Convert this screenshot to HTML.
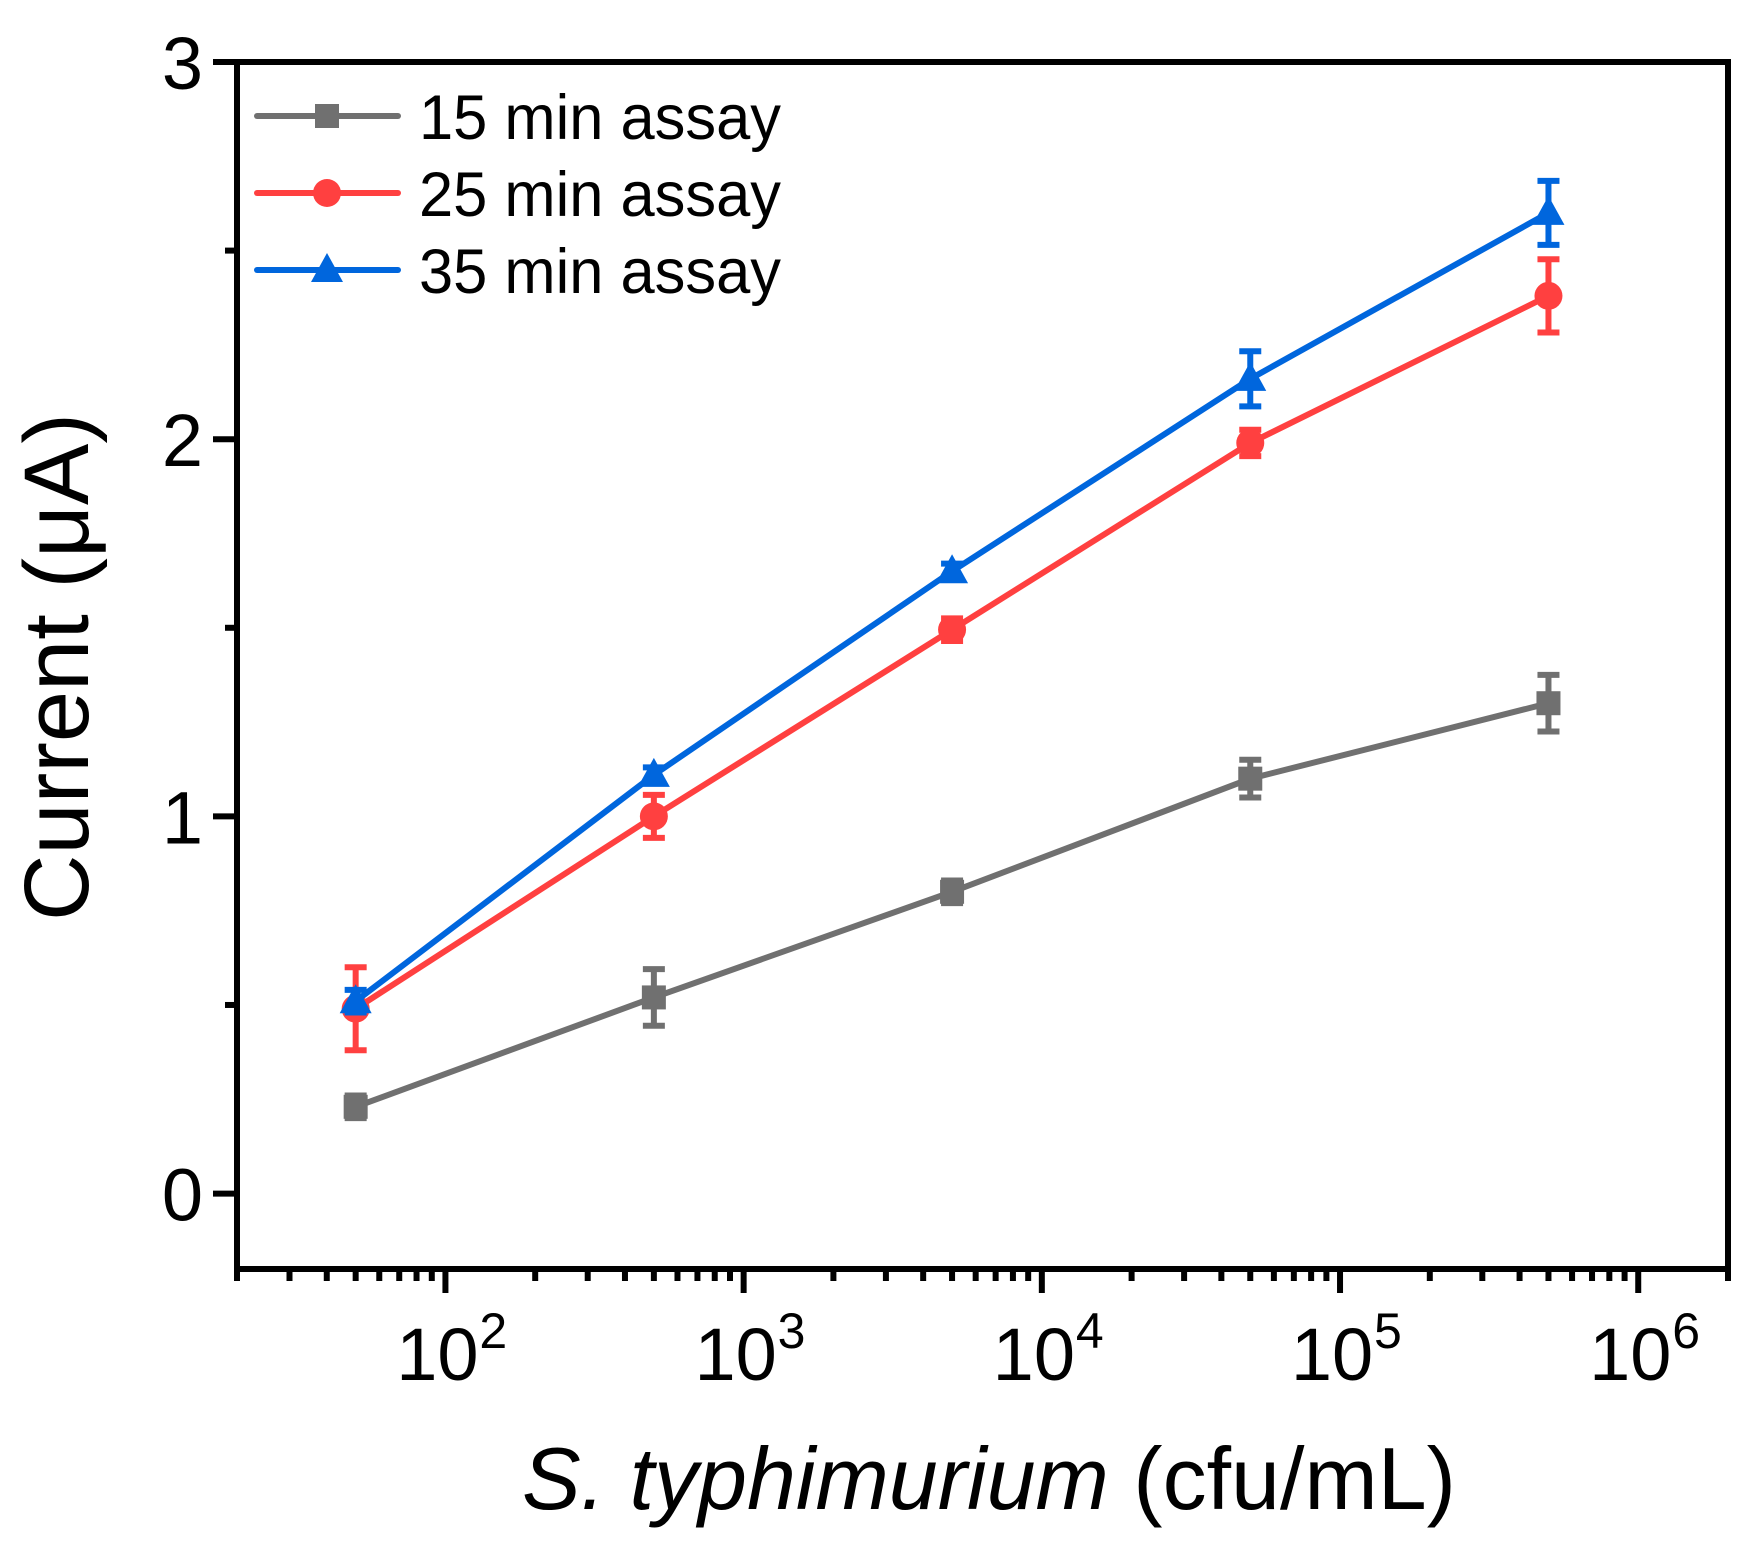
<!DOCTYPE html>
<html><head><meta charset="utf-8"><style>
html,body{margin:0;padding:0;background:#fff;}
svg{display:block;font-family:"Liberation Sans",Arial,sans-serif;}
</style></head><body>
<svg id="chart" width="1763" height="1541" viewBox="0 0 1763 1541" xmlns="http://www.w3.org/2000/svg">
<g id="plot"></g>
<text transform="translate(88,667) rotate(-90)" text-anchor="middle" font-size="92">Current (μA)</text>
<text x="989" y="1509" text-anchor="middle" font-size="88"><tspan font-style="italic">S. typhimurium</tspan> (cfu/mL)</text>
</svg>
<script>
const xValues = [50, 500, 5000, 50000, 500000];
const series15 = [0.23, 0.52, 0.80, 1.10, 1.30];
const err15 = [0.03, 0.075, 0.03, 0.05, 0.075];
const series25 = [0.49, 1.00, 1.495, 1.99, 2.38];
const err25 = [0.11, 0.057, 0.03, 0.035, 0.097];
const series35 = [0.51, 1.11, 1.65, 2.16, 2.60];
const err35 = [0.03, 0.02, 0.02, 0.073, 0.085];
const yTicks = [0, 1, 2, 3];
const xTickExps = [2, 3, 4, 5, 6];
const seriesNames = ["15 min assay", "25 min assay", "35 min assay"];

const NS = "http://www.w3.org/2000/svg";
const L = 237, R = 1728, T = 62, B = 1269;
const xMin = Math.log10(20), xMax = Math.log10(2e6);
const yMin = -0.2, yMax = 3;
const X = v => L + (Math.log10(v) - xMin) / (xMax - xMin) * (R - L);
const Y = v => B - (v - yMin) / (yMax - yMin) * (B - T);
const plot = document.getElementById('plot');
function el(tag, attrs, parent) {
  const e = document.createElementNS(NS, tag);
  for (const k in attrs) e.setAttribute(k, attrs[k]);
  (parent || plot).appendChild(e);
  return e;
}
const frame = el('rect', {x: L, y: T, width: R - L, height: B - T, fill: 'none', stroke: '#000', 'stroke-width': 6});


for (let v = 0; v <= 3; v += 0.5) {
  const major = Number.isInteger(v);
  const t = el('line', {x1: L - (major ? 24 : 12), x2: L, y1: Y(v), y2: Y(v), stroke: '#000', 'stroke-width': 6});
  
  
}
yTicks.forEach(v => {
  const t = el('text', {x: 203, y: Y(v) + 27, 'text-anchor': 'end', 'font-size': 74});
  t.textContent = v;
  
  
});
for (let e = 1; e <= 6; e++) {
  for (let m = 1; m <= 9; m++) {
    const v = m * Math.pow(10, e);
    if (v < 20 || v > 2e6) continue;
    const major = m === 1;
    const t = el('line', {x1: X(v), x2: X(v), y1: B, y2: B + (major ? 24 : 12), stroke: '#000', 'stroke-width': 6});
    
    
  }
}
xTickExps.forEach(e => {
  const t = el('text', {x: X(Math.pow(10, e)) - 8, y: 1380, 'text-anchor': 'middle', 'font-size': 74});
  t.textContent = '10';
  
  
  const s = el('text', {x: X(Math.pow(10, e)) + 34, y: 1348, 'text-anchor': 'start', 'font-size': 50});
  s.textContent = e;
  
  
});
function marker(kind, cx, cy, color, parent) {
  let m;
  if (kind === 0) m = el('rect', {x: cx - 12, y: cy - 12, width: 24, height: 24, fill: color}, parent);
  else if (kind === 1) m = el('circle', {cx: cx, cy: cy, r: 14, fill: color}, parent);
  else m = el('polygon', {points: `${cx},${cy - 17} ${cx + 16},${cy + 12} ${cx - 16},${cy + 12}`, fill: color}, parent);
  return m;
}
const colors = ['#707070', '#ff4040', '#0066dd'];
const allSeries = [series15, series25, series35];
const allErr = [err15, err25, err35];
allSeries.forEach((ys, si) => {
  const g = el('g', {});
  
  
  const pts = ys.map((y, i) => X(xValues[i]) + ',' + Y(y)).join(' ');
  const line = el('polyline', {points: pts, fill: 'none', stroke: colors[si], 'stroke-width': 6}, g);
  
  
  ys.forEach((y, i) => {
    const cx = X(xValues[i]), e = allErr[si][i];
    const eb = el('path', {d: `M${cx},${Y(y + e)}V${Y(y - e)}M${cx - 11},${Y(y + e)}H${cx + 11}M${cx - 11},${Y(y - e)}H${cx + 11}`, stroke: colors[si], 'stroke-width': 6, fill: 'none'}, g);
    
    
    const m = marker(si, cx, Y(y), colors[si], g);
    
    
  });
});
const legend = el('g', {});


const rowsY = [116, 193, 270];
seriesNames.forEach((n, i) => {
  const g = el('g', {}, legend);
  
  
  el('line', {x1: 257, x2: 398, y1: rowsY[i], y2: rowsY[i], stroke: colors[i], 'stroke-width': 6, 'stroke-linecap': 'round'}, g);
  marker(i, 327, rowsY[i], colors[i], g);
  const t = el('text', {x: 419, y: rowsY[i] + 23, 'font-size': 63, textLength: 362, lengthAdjust: 'spacingAndGlyphs'}, g);
  t.textContent = n;
});
</script>
</body></html>
